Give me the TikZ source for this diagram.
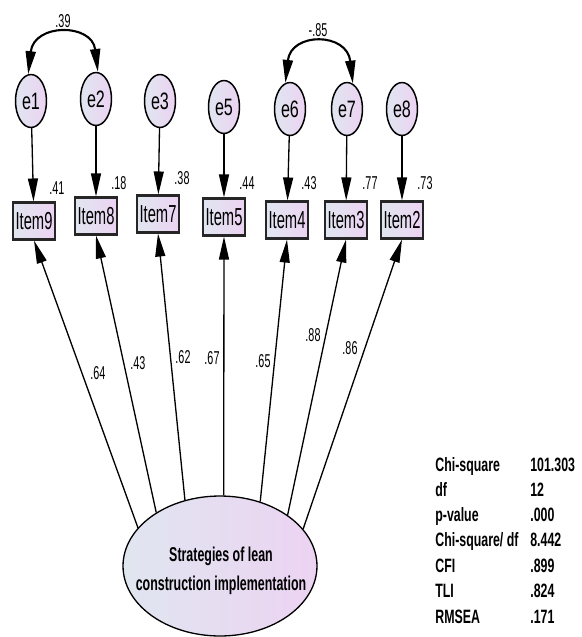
\documentclass[tikz,border=0pt]{standalone}
\usepackage{fontspec}
\setmainfont{Liberation Sans}
\newfontfamily\numfont[FakeStretch=0.58]{Liberation Sans}
\newfontfamily\errfont[FakeStretch=0.68]{Liberation Sans}
\newfontfamily\itemfont[FakeStretch=0.6]{Liberation Sans}
\newfontfamily\boldfont[FakeStretch=0.64]{Liberation Sans}
\newfontfamily\factorfont[FakeStretch=0.62]{Liberation Sans}
\usetikzlibrary{shapes.geometric,arrows.meta}

\definecolor{gradL}{RGB}{224,230,240}
\definecolor{gradR}{RGB}{236,211,242}

\tikzset{
  fillgrad/.style={left color=gradL, right color=gradR},
  errnode/.style={ellipse, draw, fillgrad, line width=0.85pt,
    minimum width=0.62cm, minimum height=1.06cm, inner sep=0pt,
    font=\errfont\fontsize{13.5}{15}\selectfont},
  itemnode/.style={rectangle, draw=black!85, fillgrad, line width=1.2pt,
    minimum width=0.84cm, minimum height=0.74cm, inner sep=0pt,
    font=\itemfont\fontsize{14}{16}\selectfont},
  factornode/.style={ellipse, draw, fillgrad, line width=0.75pt,
    minimum width=3.88cm, minimum height=2.8cm, inner sep=0pt},
  factortext/.style={align=center, inner sep=0pt,
    font=\factorfont\bfseries\fontsize{11.4}{16.5}\selectfont},
  num/.style={inner sep=0pt, font=\numfont\fontsize{10.6}{12}\selectfont},
  stat/.style={anchor=base west, inner sep=0pt,
    font=\boldfont\bfseries\fontsize{11}{13}\selectfont},
  tip/.tip={Triangle[length=0.46cm,width=0.2cm]},
  patharrow/.style={line width=0.75pt, -tip},
  covarrow/.style={line width=1.2pt, tip-tip},
}

\begin{document}
\begin{tikzpicture}[x=0.02cm, y=-0.02cm]
  \fill[white] (0,0) rectangle (582,637);
  \useasboundingbox (0,0) rectangle (582,637);

  % error terms
  \node[errnode] (e1) at (31,101) {e1};
  \node[errnode] (e2) at (96,99)  {e2};
  \node[errnode] (e3) at (160,101) {e3};
  \node[errnode] (e5) at (224,107) {e5};
  \node[errnode] (e6) at (290,109) {e6};
  \node[errnode] (e7) at (347,109) {e7};
  \node[errnode] (e8) at (402,109) {e8};

  % observed items
  \node[itemnode] (I9) at (34,221)  {Item9};
  \node[itemnode] (I8) at (96,216)  {Item8};
  \node[itemnode] (I7) at (158,214) {Item7};
  \node[itemnode] (I5) at (224,217) {Item5};
  \node[itemnode] (I4) at (287,220) {Item4};
  \node[itemnode] (I3) at (346,220) {Item3};
  \node[itemnode] (I2) at (402,220) {Item2};

  % latent factor
  \node[factornode] (F) at (220,566) {};
  \node[factortext] (Ft) at (221,571) {Strategies of lean\\construction implementation};

  % error paths
  \draw[patharrow] (e1) -- (I9);
  \draw[patharrow] (e2) -- (I8);
  \draw[patharrow] (e3) -- (I7);
  \draw[patharrow] (e5) -- (I5);
  \draw[patharrow] (e6) -- (I4);
  \draw[patharrow] (e7) -- (I3);
  \draw[patharrow] (e8) -- (I2);

  % correlated errors
  \draw[covarrow] (e1.96) .. controls (34,23) and (92,23) .. (e2.86);
  \draw[covarrow] (e6.100) .. controls (291,32) and (347,32) .. (e7.77);

  % factor loadings
  \draw[patharrow] (F.155.8) -- (I9.south);
  \draw[patharrow] (F.140.8) -- (I8.south);
  \draw[patharrow] (F.118.7) -- (I7.south);
  \draw[patharrow] (F.87.5)  -- (I5.south);
  \draw[patharrow] (F.58.6)  -- (I4.south);
  \draw[patharrow] (F.37.3)  -- (I3.south);
  \draw[patharrow] (F.24.9)  -- (I2.south);

  % covariances
  \node[num] (c12) at (63,21) {.39};
  \node[num] (c67) at (318,30) {-.85};

  % squared multiple correlations
  \node[num] (r9) at (57,188) {.41};
  \node[num] (r8) at (119,183) {.18};
  \node[num] (r7) at (182,178) {.38};
  \node[num] (r5) at (247,183) {.44};
  \node[num] (r4) at (309,183) {.43};
  \node[num] (r3) at (370,183) {.77};
  \node[num] (r2) at (425,183) {.73};

  % standardized loadings
  \node[num] (l9) at (98,373) {.64};
  \node[num] (l8) at (138,363) {.43};
  \node[num] (l7) at (183,357) {.62};
  \node[num] (l5) at (212,358) {.67};
  \node[num] (l4) at (263,361) {.65};
  \node[num] (l3) at (313,335) {.88};
  \node[num] (l2) at (350,348) {.86};

  % fit indices
  \node[stat] (s1) at (435,471) {Chi-square};
  \node[stat] (v1) at (530,471) {101.303};
  \node[stat] (s2) at (435,496) {df};
  \node[stat] (v2) at (530,496) {12};
  \node[stat] (s3) at (435,521) {p-value};
  \node[stat] (v3) at (530,521) {.000};
  \node[stat] (s4) at (435,546) {Chi-square/ df};
  \node[stat] (v4) at (530,546) {8.442};
  \node[stat] (s5) at (435,572) {CFI};
  \node[stat] (v5) at (530,572) {.899};
  \node[stat] (s6) at (435,597) {TLI};
  \node[stat] (v6) at (530,597) {.824};
  \node[stat] (s7) at (435,623) {RMSEA};
  \node[stat] (v7) at (530,623) {.171};
\end{tikzpicture}
\end{document}
